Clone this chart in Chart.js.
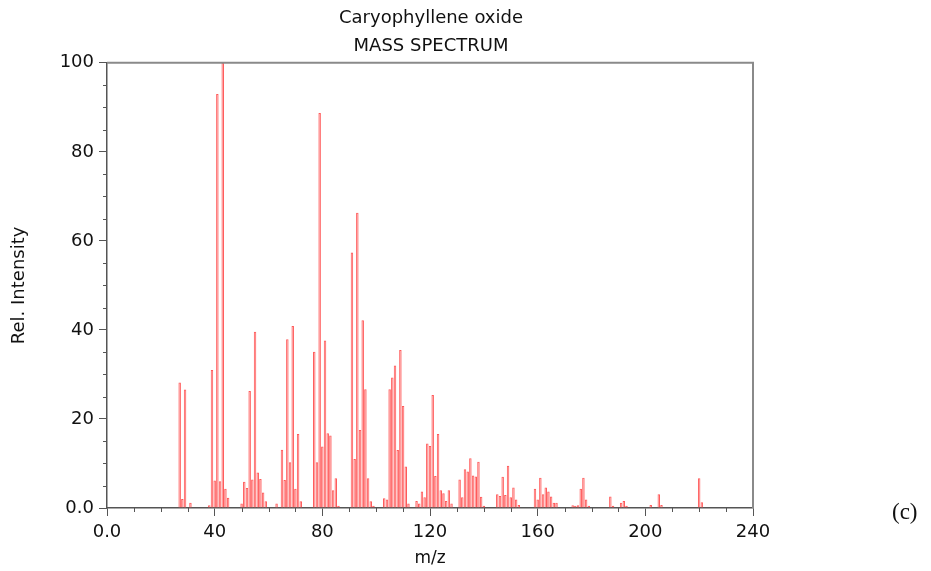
<!DOCTYPE html>
<html lang="en">
<head>
    <meta charset="UTF-8">
    <title>Caryophyllene oxide - Mass Spectrum</title>
    <script src="https://cdn.jsdelivr.net/npm/chart.js"></script>
    <style>
        body { margin: 0; background: #fff; }
        .wrap { position: relative; width: 931px; height: 571px; }
        .tag { position: absolute; left: 892px; top: 499px; font-family: 'Liberation Serif', serif; font-size: 23px; color: #111; }
    </style>
</head>
<body>
    <div class="wrap">
        <canvas id="spectrum" width="931" height="571"></canvas>
        <div class="tag">(c)</div>
    </div>

    <script>
        // m/z values and relative intensities
        const mz = [
            27, 28, 29, 31, 38, 39, 40, 41, 42, 43, 44, 45,
            50, 51, 52, 53, 54, 55, 56, 57, 58, 59, 63,
            65, 66, 67, 68, 69, 70, 71, 72,
            77, 78, 79, 80, 81, 82, 83, 84, 85, 86,
            91, 92, 93, 94, 95, 96, 97, 98, 99,
            103, 104, 105, 106, 107, 108, 109, 110, 111, 112,
            115, 116, 117, 118, 119, 120, 121, 122, 123, 124, 125, 126, 127, 128,
            131, 132, 133, 134, 135, 136, 137, 138, 139, 140,
            145, 146, 147, 148, 149, 150, 151, 152, 153,
            159, 160, 161, 162, 163, 164, 165, 166, 167,
            173, 174, 175, 176, 177, 178, 179,
            187, 188, 191, 192, 193,
            202, 205, 206,
            220, 221
        ];
        const intensity = [
            28.2, 2.0, 26.6, 1.2, 0.6, 31.0, 6.2, 93.0, 6.0, 100, 4.3, 2.3,
            1.0, 5.9, 4.5, 26.3, 6.4, 39.6, 8.0, 6.5, 3.5, 1.5, 1.0,
            13.1, 6.3, 37.9, 10.3, 40.9, 4.3, 16.6, 1.5,
            35.1, 10.3, 88.7, 13.8, 37.6, 16.8, 16.3, 4.0, 6.7, 0.5,
            57.4, 11.0, 66.3, 17.5, 42.2, 26.7, 6.7, 1.5, 0.5,
            2.2, 1.9, 26.7, 29.3, 32.0, 13.0, 35.5, 22.9, 9.3, 1.0,
            1.6, 1.0, 3.7, 2.4, 14.5, 13.9, 25.4, 7.2, 16.6, 4.0, 3.3, 1.6, 4.0, 1.0,
            6.4, 2.4, 8.7, 8.2, 11.2, 7.3, 7.1, 10.4, 2.5, 0.5,
            3.1, 2.7, 7.0, 2.9, 9.5, 2.4, 4.6, 1.9, 0.7,
            4.3, 1.9, 6.8, 3.1, 4.6, 3.7, 2.6, 1.2, 1.2,
            0.6, 0.5, 0.6, 4.3, 6.8, 1.9, 0.5,
            2.6, 0.5, 1.2, 1.6, 0.5,
            0.7, 3.1, 0.7,
            6.7, 1.3
        ];
        const titleLines = ['Caryophyllene oxide', 'MASS SPECTRUM'];
        const xMax = 240, xMajor = 40, xMinor = 10;
        const yMax = 100, yMajor = 20, yMinor = 5;

        Chart.defaults.font.family = "'DejaVu Sans', sans-serif";
        Chart.defaults.color = '#111';

        const fmt = v => (v === 0 ? '0.0' : String(v));

        // plot frame on top/right and the short minor ticks
        const frameTicks = {
            id: 'frameTicks',
            afterDraw(chart) {
                const { ctx, chartArea: a, scales: { x, y } } = chart;
                ctx.save();
                ctx.strokeStyle = '#8a8a8a';
                ctx.lineWidth = 2;
                ctx.beginPath();
                ctx.moveTo(a.left, a.top);
                ctx.lineTo(a.right, a.top);
                ctx.lineTo(a.right, a.bottom);
                ctx.stroke();

                ctx.strokeStyle = '#555';
                ctx.lineWidth = 1;
                ctx.beginPath();
                for (let v = 0; v <= xMax; v += xMinor) {
                    if (v % xMajor === 0) continue;
                    const px = Math.round(x.getPixelForValue(v)) + 0.5;
                    ctx.moveTo(px, a.bottom);
                    ctx.lineTo(px, a.bottom + 4);
                }
                for (let v = 0; v <= yMax; v += yMinor) {
                    if (v % yMajor === 0) continue;
                    const py = Math.round(y.getPixelForValue(v)) + 0.5;
                    ctx.moveTo(a.left - 4, py);
                    ctx.lineTo(a.left, py);
                }
                ctx.stroke();
                ctx.restore();
            }
        };

        new Chart(document.getElementById('spectrum'), {
            type: 'bar',
            data: {
                datasets: [{
                    data: mz.map((m, i) => ({ x: m, y: intensity[i] })),
                    backgroundColor: 'rgba(255, 140, 140, 0.7)',
                    borderColor: '#ff5a5a',
                    borderWidth: 1,
                    barPercentage: 0.92,
                    categoryPercentage: 1.0
                }]
            },
            options: {
                responsive: false,
                animation: false,
                devicePixelRatio: 1,
                layout: { padding: { left: 0, right: 69, top: 1, bottom: 0 } },
                plugins: {
                    legend: { display: false },
                    tooltip: { enabled: false },
                    title: {
                        display: true,
                        text: titleLines,
                        color: '#111',
                        font: { size: 18, weight: 'normal', lineHeight: 1.55 },
                        padding: { top: 3, bottom: 3 }
                    }
                },
                scales: {
                    x: {
                        type: 'linear',
                        min: 0,
                        max: xMax,
                        offset: false,
                        grid: { drawOnChartArea: false, offset: false, tickLength: 8, color: '#555' },
                        border: { color: '#555', width: 1.5 },
                        ticks: { stepSize: xMajor, callback: fmt, font: { size: 18 }, padding: 6, maxRotation: 0, autoSkip: false },
                        title: { display: true, text: 'm/z', font: { size: 17 }, padding: { top: 0, bottom: 2 } },
                        afterFit(s) { s.height = 63; }
                    },
                    y: {
                        min: 0,
                        max: yMax,
                        grid: { drawOnChartArea: false, tickLength: 8, color: '#555' },
                        border: { color: '#555', width: 1.5 },
                        ticks: { stepSize: yMajor, callback: fmt, font: { size: 18 }, padding: 5 },
                        title: { display: true, text: 'Rel. Intensity', font: { size: 18 }, padding: { top: 9, bottom: 0 } },
                        afterFit(s) { s.width = 107; }
                    },
                    // empty right-hand box: keeps the plot frame clear of the right margin
                    yRight: {
                        position: 'right',
                        min: 0,
                        max: 1,
                        grid: { display: false },
                        border: { display: false },
                        ticks: { display: false },
                        afterFit(s) { s.width = 109; }
                    }
                }
            },
            plugins: [frameTicks]
        });
    </script>
</body>
</html>
